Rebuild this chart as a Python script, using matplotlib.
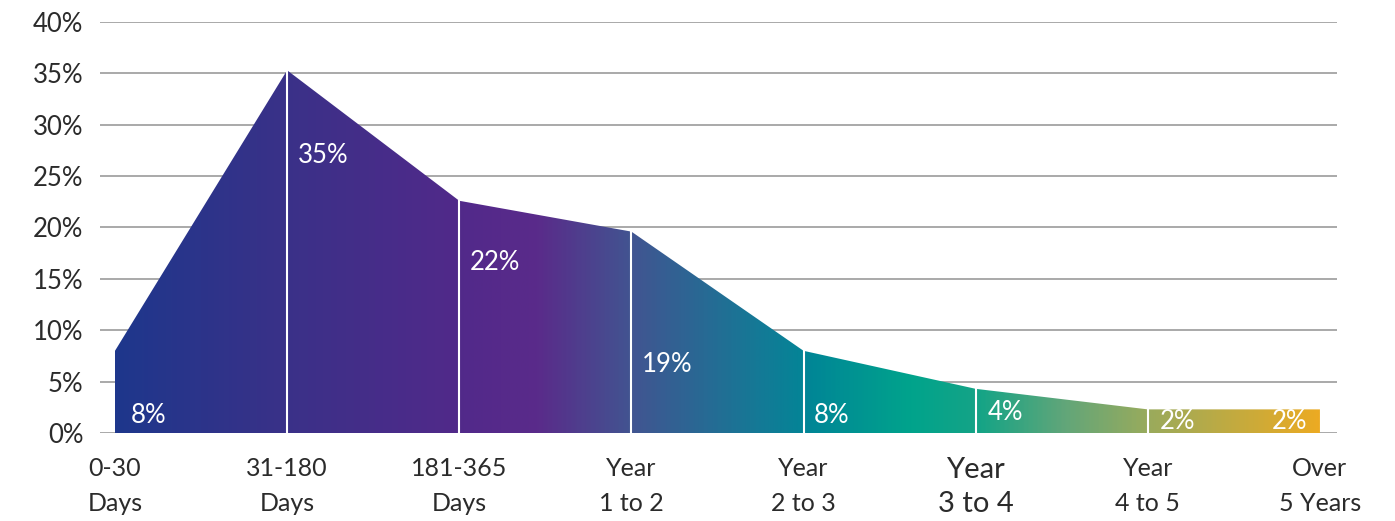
import numpy as np
import matplotlib.pyplot as plt
from matplotlib.colors import LinearSegmentedColormap
from matplotlib.patches import Polygon

plt.rcParams['font.family'] = ['Lato', 'DejaVu Sans']

categories = ['0-30\nDays', '31-180\nDays', '181-365\nDays', 'Year\n1 to 2',
              'Year\n2 to 3', 'Year\n3 to 4', 'Year\n4 to 5', 'Over\n5 Years']
share = [8.0, 35.3, 22.6, 19.6, 8.0, 4.3, 2.3, 2.3]
yticks = [0, 5, 10, 15, 20, 25, 30, 35, 40]

# where the % labels sit inside the area (data units)
label_x = [0.09, 1.06, 2.06, 3.06, 4.06, 5.07, 6.07, 6.72]
label_y = [1.7, 27.0, 16.6, 6.7, 1.7, 2.0, 1.1, 1.1]

grad = LinearSegmentedColormap.from_list('aging', [
    (0.00, '#1e378c'),
    (0.14, '#3a3188'),
    (0.29, '#52298a'),
    (0.35, '#5a2b8a'),
    (0.43, '#415591'),
    (0.53, '#167896'),
    (0.58, '#008796'),
    (0.66, '#00a38c'),
    (0.72, '#16a486'),
    (0.79, '#62a679'),
    (0.86, '#9aab5c'),
    (1.00, '#ebaa23'),
])

fig = plt.figure(figsize=(13.95, 5.21), dpi=100)
ax = fig.add_axes([0.0717, 0.1689, 0.8867, 0.7889])

x = np.arange(len(share))
ax.set_xlim(-0.087, 7.099)
ax.set_ylim(0, 40)

for t in yticks:
    ax.axhline(t, color='#a3a3a3', lw=1.3, zorder=1)

verts = [(x[0], 0)] + list(zip(x, share)) + [(x[-1], 0)]
poly = Polygon(verts, closed=True, facecolor='none', edgecolor='none')
ax.add_patch(poly)
img = ax.imshow(np.linspace(0, 1, 512).reshape(1, -1), cmap=grad, aspect='auto',
                extent=[x[0], x[-1], 0, max(share)], zorder=2, interpolation='bilinear')
img.set_clip_path(poly)

for xi, v in zip(x[1:-1], share[1:-1]):
    ax.plot([xi, xi], [0, v], color='white', lw=1.5, zorder=3)

for lx, ly, v in zip(label_x, label_y, share):
    ax.text(lx, ly, f'{int(v)}%', color='white', fontsize=18.5,
            ha='left', va='center', zorder=4)

ax.set_yticks(yticks)
ax.set_yticklabels([f'{t}%' for t in yticks], fontsize=18.5, color='#2b2b2b')
ax.set_xticks(x)
ax.set_xticklabels(categories, fontsize=18, color='#2b2b2b', linespacing=1.65)
ax.get_xticklabels()[5].set_fontsize(21)
ax.get_xticklabels()[5].set_linespacing(1.38)
ax.tick_params(axis='both', length=0)
ax.tick_params(axis='y', pad=12)
ax.tick_params(axis='x', pad=17)
for s in ax.spines.values():
    s.set_visible(False)

fig.savefig('out.png', dpi=100)
